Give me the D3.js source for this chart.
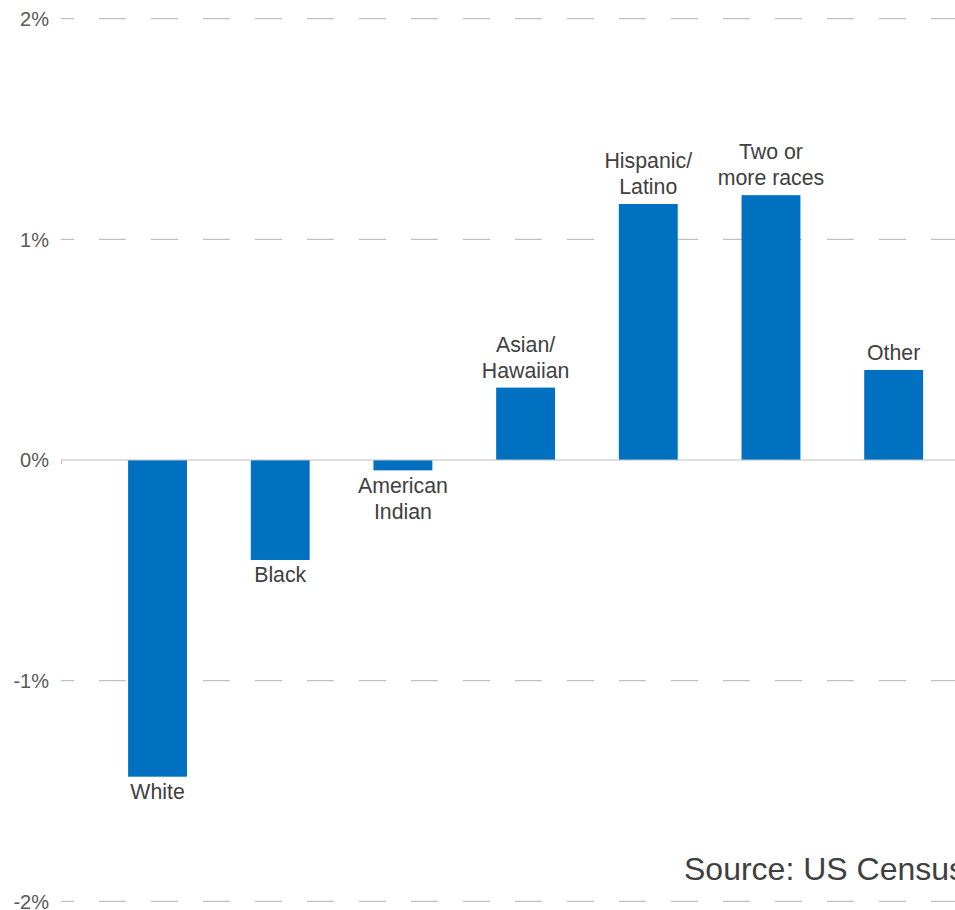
<!DOCTYPE html>
<html>
<head>
<meta charset="utf-8">
<script src="https://cdn.jsdelivr.net/npm/d3@7"></script>
<style>
  html, body { margin: 0; padding: 0; background: #fff; }
  svg { display: block; }
</style>
</head>
<body>
<svg id="chart" width="955" height="910"></svg>
<script>
const categories = ["White", "Black", "American Indian", "Asian/ Hawaiian", "Hispanic/ Latino", "Two or more races", "Other"];
const labelLines = [["White"], ["Black"], ["American", "Indian"], ["Asian/", "Hawaiian"], ["Hispanic/", "Latino"], ["Two or", "more races"], ["Other"]];
const values = [-1.435, -0.453, -0.047, 0.328, 1.16, 1.2, 0.408];
const tickValues = [-2, -1, 0, 1, 2];
const tickLabels = ["-2%", "-1%", "0%", "1%", "2%"];
const sourceText = "Source: US Census";

const svg = d3.select("#chart");
const fontFamily = "'Liberation Sans', Arial, sans-serif";

const y = d3.scaleLinear().domain([-2, 2]).range([901.4, 18.6]);
const x = d3.scaleBand().domain(categories).range([96.2, 955]).paddingInner(0.52).paddingOuter(0.26);

// gridlines
const grid = svg.append("g");
tickValues.forEach((t, i) => {
  if (t === 0) return;
  grid.append("line")
    .attr("x1", 61).attr("x2", 955)
    .attr("y1", y(t)).attr("y2", y(t))
    .attr("stroke", "#c0c0c0").attr("stroke-width", 1.2)
    .attr("stroke-dasharray", "27,25").attr("stroke-dashoffset", 14);
});

// tick labels
svg.append("g").selectAll("text").data(tickValues).join("text")
  .attr("x", 49).attr("y", d => y(d)).attr("dy", "0.36em")
  .attr("text-anchor", "end")
  .attr("font-family", fontFamily).attr("font-size", 20)
  .attr("fill", "#595959")
  .text((d, i) => tickLabels[i]);

// bars
svg.append("g").selectAll("rect").data(values).join("rect")
  .attr("x", (d, i) => x(categories[i]))
  .attr("width", x.bandwidth())
  .attr("y", d => y(Math.max(0, d)))
  .attr("height", d => Math.abs(y(d) - y(0)))
  .attr("fill", "#0070c0");

// zero line
svg.append("line")
  .attr("x1", 61).attr("x2", 955).attr("y1", y(0)).attr("y2", y(0))
  .attr("stroke", "#bfbfbf").attr("stroke-width", 1.2);
svg.append("line")
  .attr("x1", 61.5).attr("x2", 61.5).attr("y1", y(0)).attr("y2", y(0) + 4)
  .attr("stroke", "#bfbfbf").attr("stroke-width", 1.2);

// category labels
const lineH = 26;
const lg = svg.append("g");
values.forEach((v, i) => {
  const lines = labelLines[i];
  const cx = x(categories[i]) + x.bandwidth() / 2;
  let firstBaseline;
  if (v >= 0) {
    firstBaseline = y(v) - 10 - (lines.length - 1) * lineH;
  } else {
    firstBaseline = y(v) + 22.5;
  }
  const t = lg.append("text")
    .attr("text-anchor", "middle")
    .attr("font-family", fontFamily).attr("font-size", 21.3)
    .attr("fill", "#404040");
  lines.forEach((ln, j) => {
    t.append("tspan").attr("x", cx).attr("y", firstBaseline + j * lineH).text(ln);
  });
});

// source
svg.append("text")
  .attr("x", 684).attr("y", 880)
  .attr("font-family", fontFamily).attr("font-size", 32)
  .attr("fill", "#404040")
  .text(sourceText);
</script>
</body>
</html>
